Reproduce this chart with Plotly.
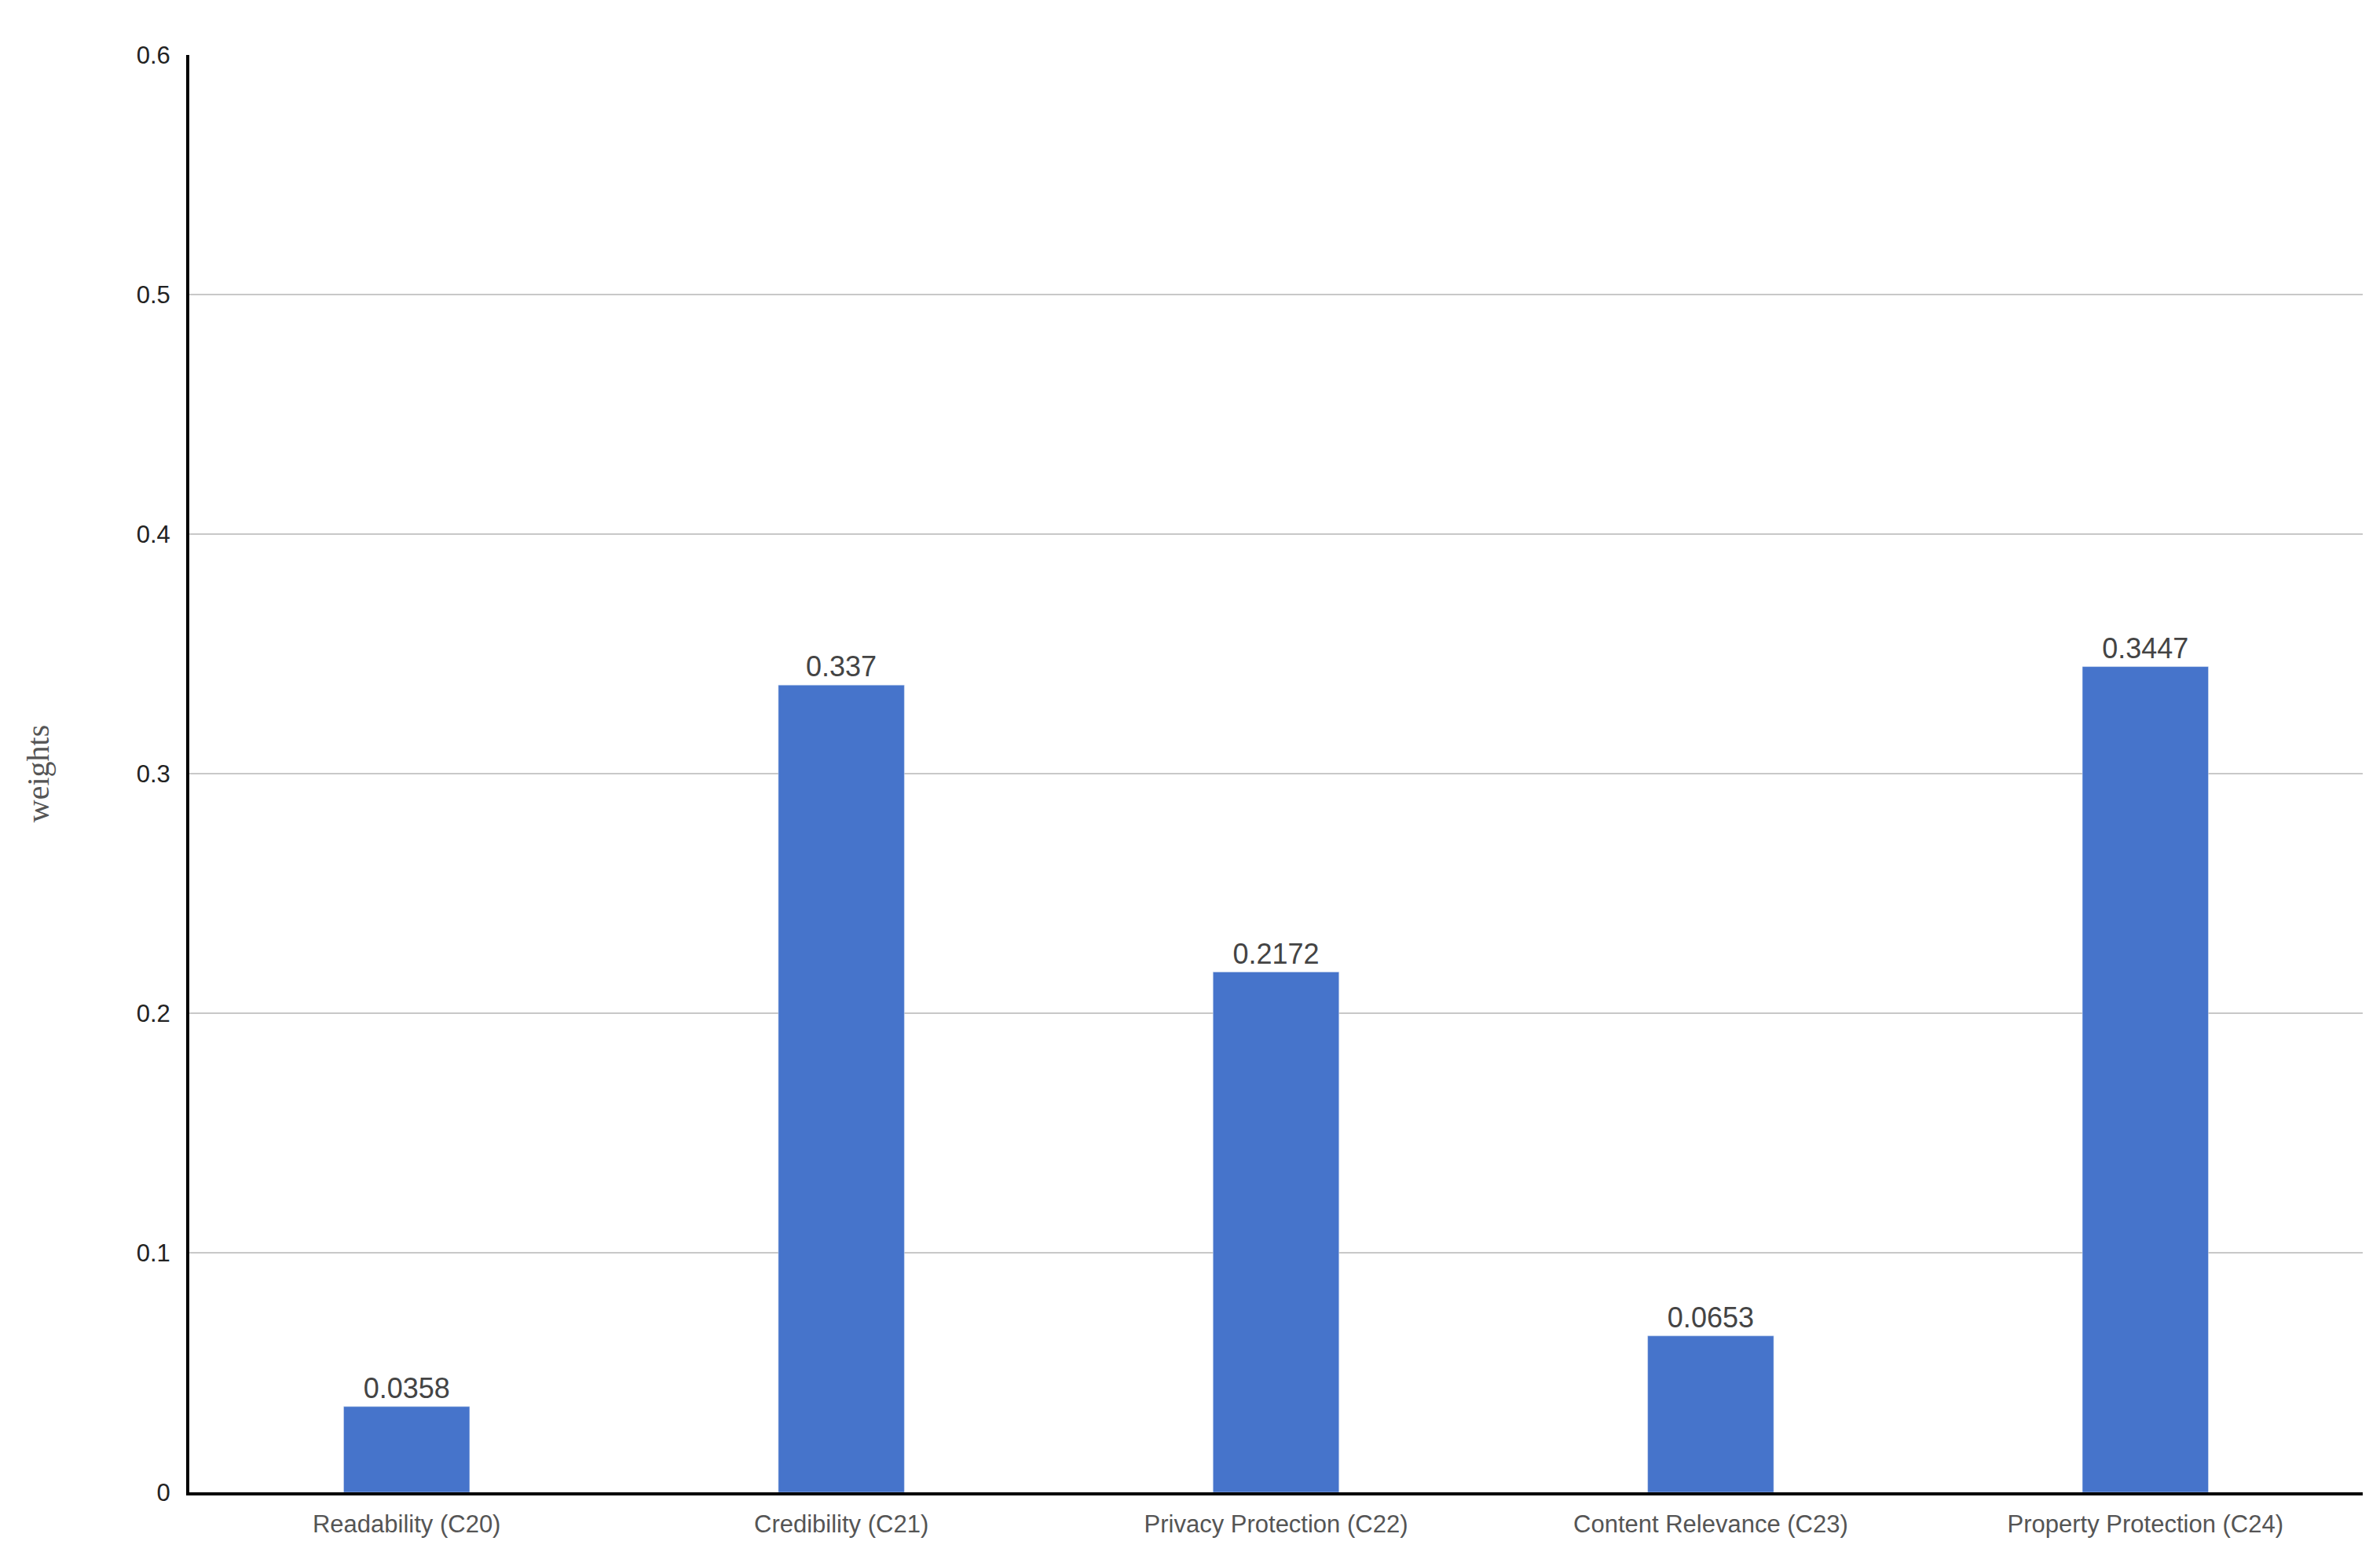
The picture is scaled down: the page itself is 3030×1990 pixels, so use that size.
import plotly.graph_objects as go

categories = ["Readability (C20)", "Credibility (C21)", "Privacy Protection (C22)",
              "Content Relevance (C23)", "Property Protection (C24)"]
weights = [0.0358, 0.337, 0.2172, 0.0653, 0.3447]
labels = ["0.0358", "0.337", "0.2172", "0.0653", "0.3447"]
yticks = [0, 0.1, 0.2, 0.3, 0.4, 0.5, 0.6]
yticktext = ["0", "0.1", "0.2", "0.3", "0.4", "0.5", "0.6"]

fig = go.Figure(go.Bar(
    x=categories, y=weights, text=labels, textposition="outside",
    marker_color="#4674CB", textfont=dict(size=36, color="#444444", family="Liberation Sans"),
    cliponaxis=False,
))
fig.update_layout(
    width=3030, height=1990, plot_bgcolor="white", paper_bgcolor="white",
    margin=dict(l=233, r=30, t=62, b=98),
    bargap=0.71, showlegend=False,
    font=dict(family="Liberation Sans", color="#444444", size=31),
)
fig.update_xaxes(showline=True, linecolor="black", linewidth=4, ticks="",
                 tickfont=dict(size=31, color="#555555"), ticklabelstandoff=10)
fig.update_yaxes(range=[0, 0.6], tickvals=yticks, ticktext=yticktext,
                 showgrid=True, gridcolor="#c8c8c8", gridwidth=2,
                 showline=True, linecolor="black", linewidth=4, zeroline=False,
                 tickfont=dict(size=31, color="#222222"), ticklabelstandoff=14,
                 title=dict(text="weights", font=dict(family="Liberation Serif", size=40, color="#555555"),
                            standoff=100))
fig.write_html("out.html")
